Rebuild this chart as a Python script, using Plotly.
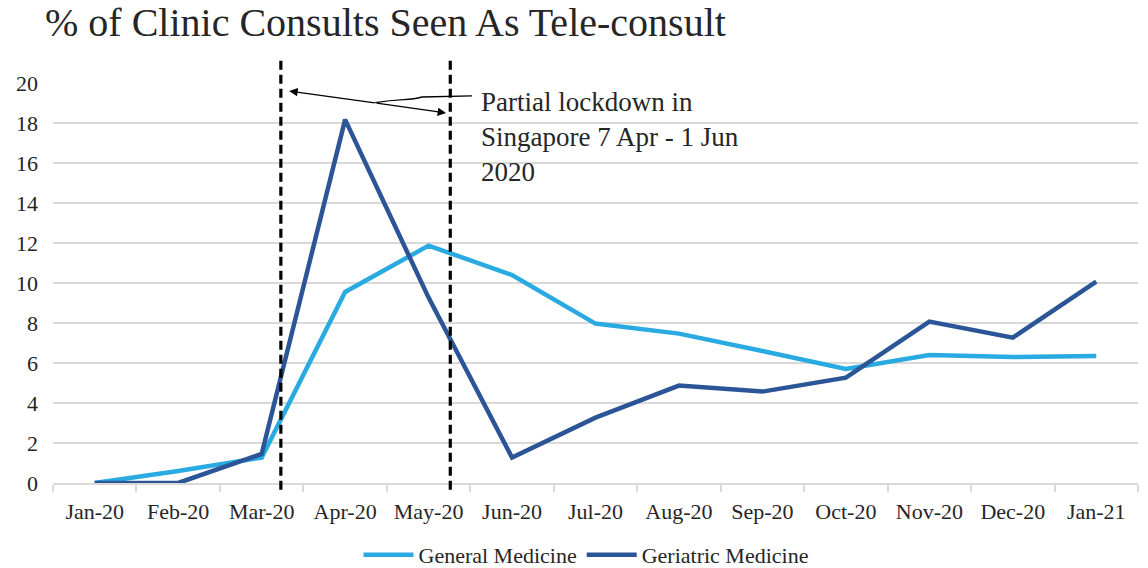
import plotly.graph_objects as go

months = ["Jan-20", "Feb-20", "Mar-20", "Apr-20", "May-20", "Jun-20", "Jul-20",
          "Aug-20", "Sep-20", "Oct-20", "Nov-20", "Dec-20", "Jan-21"]
general_medicine = [0.0, 0.6, 1.27, 9.55, 11.87, 10.4, 7.97, 7.47, 6.6, 5.7, 6.4, 6.3, 6.35]
geriatric_medicine = [0.0, 0.0, 1.45, 18.17, 9.27, 1.27, 3.27, 4.87, 4.57, 5.27, 8.07, 7.27, 10.07]
y_ticks = [0, 2, 4, 6, 8, 10, 12, 14, 16, 18, 20]

SERIF = "Times New Roman"
TXT = "#262626"

fig = go.Figure()
fig.add_trace(go.Scatter(x=months, y=general_medicine, mode="lines", name="General Medicine",
                         line=dict(color="#29ABE2", width=4.5)))
fig.add_trace(go.Scatter(x=months, y=geriatric_medicine, mode="lines", name="Geriatric Medicine",
                         line=dict(color="#2C5597", width=4.5)))

for xp in [2.23, 4.26]:
    fig.add_shape(type="line", xref="x", yref="paper", x0=xp, x1=xp, y0=-0.017, y1=1.063,
                  line=dict(color="black", width=3.2, dash="9px,5px"))

fig.add_annotation(x=2.33, y=19.6, xref="x", yref="y", ax=87, ay=12, text="", showarrow=True,
                   arrowhead=2, arrowsize=1.3, arrowwidth=1.3, arrowcolor="black")
fig.add_annotation(x=4.21, y=18.5, xref="x", yref="y", ax=-71, ay=-10, text="", showarrow=True,
                   arrowhead=2, arrowsize=1.3, arrowwidth=1.3, arrowcolor="black")
fig.add_shape(type="path", xref="x", yref="y",
              path="M 3.36 19.02 C 3.7 19.25, 3.75 19.1, 3.92 19.3 L 4.52 19.36",
              line=dict(color="black", width=1.3))

fig.add_annotation(x=(479 - 53) / 1085, y=(483 - 85) / 400, xref="paper", yref="paper",
                   xanchor="left", yanchor="top", align="left", showarrow=False,
                   text="Partial lockdown in<br>Singapore 7 Apr - 1 Jun<br>2020",
                   font=dict(family=SERIF, size=27, color=TXT))

fig.update_layout(
    width=1148, height=568,
    margin=dict(l=53, r=10, t=83, b=85, autoexpand=False),
    paper_bgcolor="white", plot_bgcolor="white",
    font=dict(family=SERIF, color=TXT),
    title=dict(text="% of Clinic Consults Seen As Tele-consult", x=45 / 1148, xanchor="left",
               y=1 - 22 / 568, yanchor="middle",
               font=dict(family=SERIF, size=40, color=TXT)),
    showlegend=True,
    legend=dict(orientation="h", x=(586 - 53) / 1085, xanchor="center", y=-0.18, yanchor="middle",
                font=dict(family=SERIF, size=22, color=TXT), itemwidth=50, tracegroupgap=0),
    xaxis=dict(type="category", range=[-0.5, 12.5], tickson="boundaries", ticks="outside",
               ticklen=7, tickcolor="#D9D9D9", tickwidth=2, showgrid=False,
               showline=True, linecolor="#D9D9D9", linewidth=2, automargin=False,
               ticklabelstandoff=8,
               tickfont=dict(family=SERIF, size=22, color=TXT)),
    yaxis=dict(range=[0, 20], tickvals=y_ticks, showgrid=True, gridcolor="#D9D9D9", gridwidth=1.5,
               zeroline=False, showline=False, ticks="", ticklabelstandoff=14, automargin=False,
               tickfont=dict(family=SERIF, size=22, color=TXT)),
)

fig.write_html("out.html", config={"displayModeBar": False},
               post_script="document.body.style.margin='0px';")
